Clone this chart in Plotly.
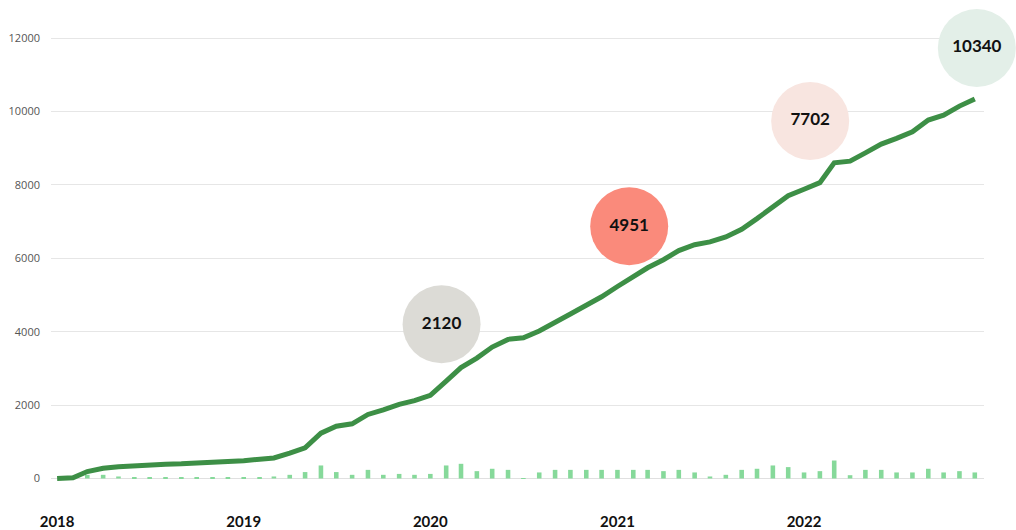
import plotly.graph_objects as go
import pandas as pd

months = pd.date_range("2018-01-01", "2022-12-01", freq="MS").strftime("%Y-%m-%d").tolist()

cumulative = [
    0, 20, 190, 280, 320, 350, 355, 390, 400, 430, 455, 465,
    485, 520, 560, 690, 835, 1235, 1425, 1490, 1745, 1870, 2020, 2120,
    2265, 2655, 3020, 3280, 3580, 3790, 3835, 4020, 4240, 4480, 4720, 4951,
    5230, 5500, 5740, 5960, 6210, 6370, 6445, 6580, 6790, 7080, 7400, 7702,
    7880, 8060, 8600, 8645, 8870, 9110, 9265, 9445, 9765, 9900, 10145, 10340,
]

monthly = [
    0, 0, 100, 100, 55, 15, 15, 15, 15, 15, 15, 15,
    15, 15, 55, 100, 175, 355, 175, 100, 235, 100, 125, 100,
    125, 355, 400, 200, 265, 235, 10, 165, 235, 235, 235, 235,
    235, 235, 235, 200, 235, 165, 55, 100, 235, 265, 355, 310,
    165, 200, 490, 90, 235, 235, 165, 165, 265, 165, 200, 165,
]

bubble_labels = ["2120", "4951", "7702", "10340"]
bubble_x = ["2020-01-23", "2021-01-24", "2022-01-13", "2022-12-05"]
bubble_y = [4200, 6870, 9740, 11730]
bubble_colors = ["#dcdbd6", "#fa8a7b", "#f8e5e0", "#e3efe8"]

year_ticks = ["2018-01-01", "2019-01-01", "2020-01-01", "2021-01-01", "2022-01-01"]
year_labels = ["2018", "2019", "2020", "2021", "2022"]
y_ticks = [0, 2000, 4000, 6000, 8000, 10000, 12000]
y_tick_labels = ["0", "2000", "4000", "6000", "8000", "10000", "12000"]

fig = go.Figure()

fig.add_trace(go.Bar(
    x=months, y=monthly,
    marker=dict(color="#86d99a", line=dict(width=0)),
    hoverinfo="skip",
))

fig.add_trace(go.Scatter(
    x=months, y=cumulative, mode="lines",
    line=dict(color="#3d8f46", width=5),
    cliponaxis=False,
    hoverinfo="skip",
))

fig.add_trace(go.Scatter(
    x=bubble_x, y=bubble_y, mode="markers+text",
    text=bubble_labels, textposition="middle center",
    textfont=dict(family="Lato", size=17, color="#111111", weight="bold"),
    marker=dict(size=78, color=bubble_colors, line=dict(width=0), opacity=1),
    cliponaxis=False,
    hoverinfo="skip",
))

fig.update_layout(
    width=1016, height=530,
    margin=dict(l=51, r=32, t=27, b=46),
    plot_bgcolor="white", paper_bgcolor="white",
    showlegend=False,
    bargap=0.68,
    xaxis=dict(
        range=["2017-12-20", "2022-12-19"],
        tickvals=year_ticks, ticktext=year_labels,
        showgrid=False, zeroline=False, showline=False,
        ticks="",
        tickfont=dict(family="Lato", size=15, color="#111111", weight="bold"),
        ticklabelstandoff=27,
        automargin=False,
    ),
    yaxis=dict(
        range=[-150, 12300],
        tickvals=y_ticks, ticktext=y_tick_labels,
        showgrid=True, gridcolor="#e6e6e6", gridwidth=1,
        zeroline=True, zerolinecolor="#e0e0e0", zerolinewidth=1,
        showline=False, ticks="",
        tickfont=dict(family="Open Sans", size=11, color="#555555"),
        ticklabelstandoff=10,
        automargin=False,
    ),
)

fig.write_html(
    "out.html",
    config={"displayModeBar": False},
    post_script="document.body.style.margin='0';document.body.style.overflow='hidden';",
)
